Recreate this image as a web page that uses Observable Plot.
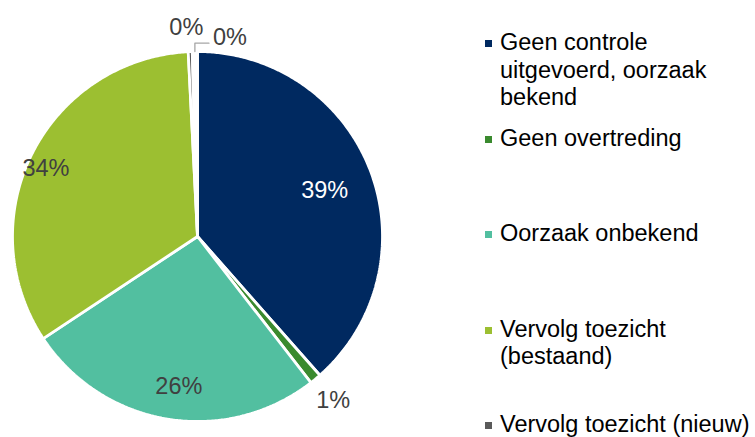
<!DOCTYPE html>
<html>
<head>
<meta charset="utf-8">
<script src="https://cdn.jsdelivr.net/npm/d3@7"></script>
<script src="https://cdn.jsdelivr.net/npm/@observablehq/plot@0.6"></script>
<style>
  html, body { margin: 0; padding: 0; background: #fff; overflow: hidden; }
  #wrap { position: relative; width: 755px; height: 437px; overflow: hidden; font-family: "Liberation Sans", Arial, sans-serif; }
  #chart { position: absolute; left: 0; top: 0; }
  #legend { position: absolute; left: 485px; top: 29px; width: 290px; }
  .item { position: relative; height: 95.6px; }
  .sw { position: absolute; left: 0; top: 11px; width: 7px; height: 7px; }
  .lab { position: absolute; left: 15px; top: 0; width: 262px; font-size: 23.5px; line-height: 27.7px; color: #000; }
</style>
</head>
<body>
<div id="wrap">
  <div id="chart"></div>
  <div id="legend"></div>
</div>
<script>
// ---- data ----
const categories = [
  "Geen controle uitgevoerd, oorzaak bekend",
  "Geen overtreding",
  "Oorzaak onbekend",
  "Vervolg toezicht (bestaand)",
  "Vervolg toezicht (nieuw)",
  "Overig"
];
const values = [38.5, 1.0, 26.2, 33.5, 0.35, 0.45];
const colors = ["#002960", "#3a8a2e", "#52bfa0", "#9cbf31", "#5a5a5a", "#ffffff"];
const legendShown = [true, true, true, true, true, false];

// ---- layout (not data) ----
const R_PX = 185;
const labelRadius = [0.735, 1.15, 0.82, 0.9, 1.13, null];
const labelDxPx = [0, 0, 6, -3, -3, 0];
const labelDyPx = [2, 0, 0, 7, 0, 0];
const labelColor = ["#ffffff", "#404040", "#404040", "#404040", "#404040", "#404040"];

const total = d3.sum(values);
let acc = 0;
const slices = categories.map((c, i) => {
  const a0 = acc / total * 2 * Math.PI;
  acc += values[i];
  const a1 = acc / total * 2 * Math.PI;
  return {cat: c, i, v: values[i], a0, a1, mid: (a0 + a1) / 2};
});
const pol = (r, a) => [r * Math.sin(a), r * Math.cos(a)];

// slice polygons
const polyPts = [];
for (const s of slices) {
  polyPts.push({cat: s.cat, x: 0, y: 0});
  const n = Math.max(2, Math.ceil((s.a1 - s.a0) / (Math.PI / 360)));
  for (let k = 0; k <= n; k++) {
    const a = s.a0 + (s.a1 - s.a0) * k / n;
    const [x, y] = pol(1, a);
    polyPts.push({cat: s.cat, x, y});
  }
  polyPts.push({cat: s.cat, x: 0, y: 0});
}

// labels
const labels = slices.filter(s => labelRadius[s.i] != null).map(s => {
  const [x, y] = pol(labelRadius[s.i], s.mid);
  return {x: x + labelDxPx[s.i] / R_PX, y: y - labelDyPx[s.i] / R_PX, text: Math.round(s.v) + "%", i: s.i};
});

// leader-line label for last slice
const last = slices[5];
const [lx0, ly0] = pol(1.0, last.mid);
const leader = [
  {x: lx0, y: ly0},
  {x: lx0, y: 1.045},
  {x: lx0 + 0.076, y: 1.045}
];
const leaderLabel = [{x: lx0 + 0.076, y: 1.045, text: Math.round(last.v) + "%"}];

const plot = Plot.plot({
  width: 755,
  height: 437,
  marginLeft: 12,
  marginRight: 373,
  marginTop: 51,
  marginBottom: 16,
  x: {domain: [-1, 1], axis: null},
  y: {domain: [-1, 1], axis: null},
  color: {domain: categories, range: colors},
  style: {fontFamily: '"Liberation Sans", Arial, sans-serif', overflow: "visible"},
  marks: [
    Plot.line(polyPts, {x: "x", y: "y", z: "cat", fill: "cat", stroke: "white", strokeWidth: 2.8, strokeLinejoin: "miter", curve: "linear"}),
    Plot.line(leader, {x: "x", y: "y", stroke: "#a6a6a6", strokeWidth: 1.3}),
    Plot.text(leaderLabel, {x: "x", y: "y", text: "text", textAnchor: "start", dx: 4, dy: -6, fontSize: 23.5, fill: "#404040"}),
    Plot.text(labels, {x: "x", y: "y", text: "text", fontSize: 23.5, fill: d => labelColor[d.i]})
  ]
});
document.getElementById("chart").appendChild(plot);

// legend
const leg = document.getElementById("legend");
categories.forEach((c, i) => {
  if (!legendShown[i]) return;
  const it = document.createElement("div");
  it.className = "item";
  const sw = document.createElement("div");
  sw.className = "sw";
  sw.style.background = colors[i];
  const lab = document.createElement("div");
  lab.className = "lab";
  lab.textContent = c;
  it.appendChild(sw);
  it.appendChild(lab);
  leg.appendChild(it);
});
</script>
</body>
</html>
